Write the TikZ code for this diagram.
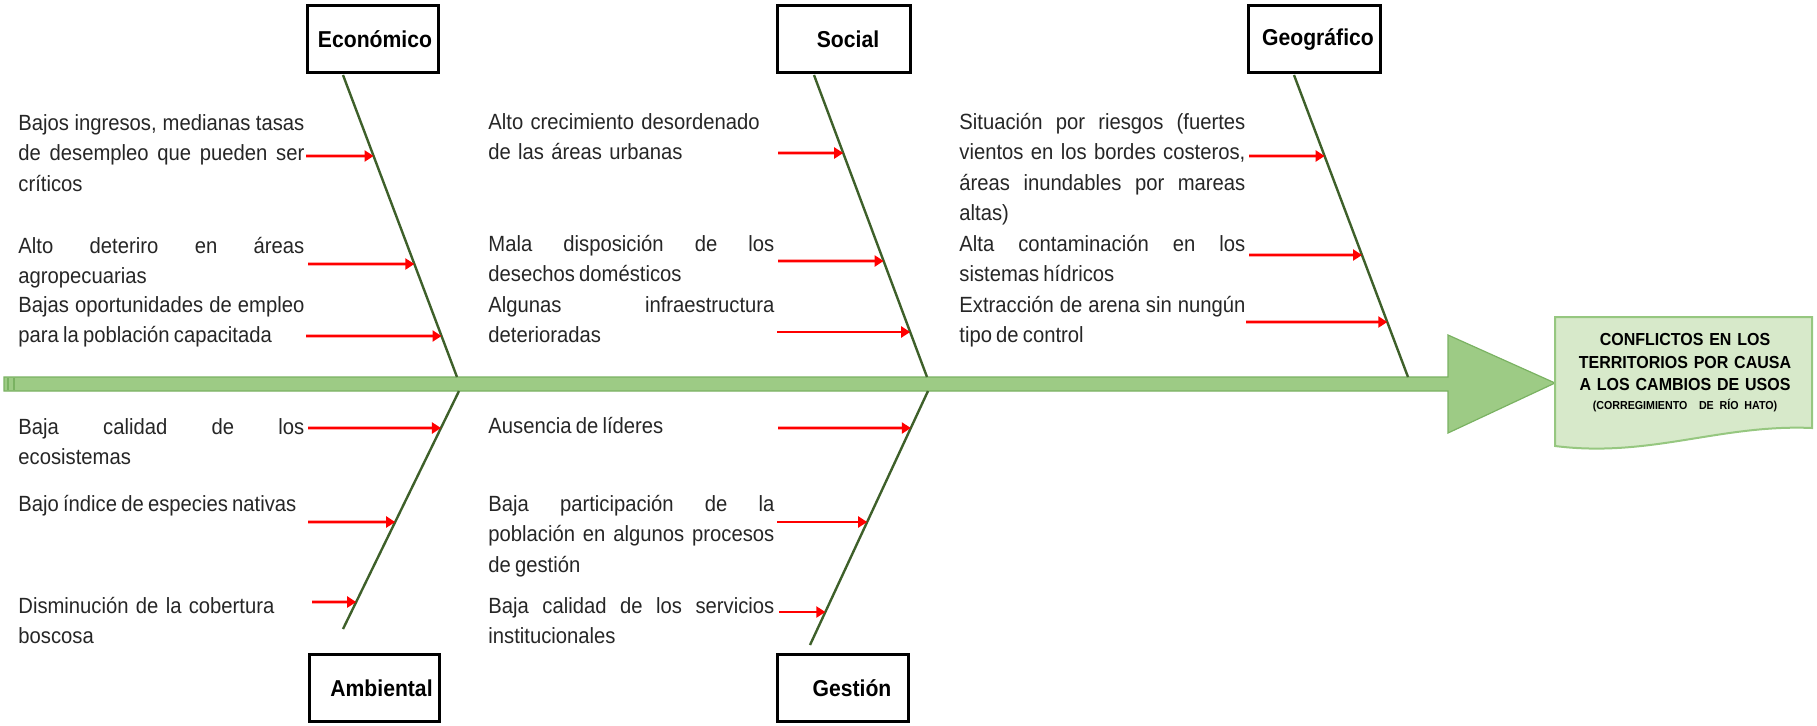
\documentclass[tikz,border=0pt]{standalone}
\usepackage{fontspec}
\setmainfont{Liberation Sans}[FakeStretch=0.92, WordSpace=0.75]
\usetikzlibrary{arrows.meta}
\definecolor{spinefill}{RGB}{157,203,133}
\definecolor{spineline}{RGB}{122,178,98}
\definecolor{bonegreen}{RGB}{62,96,42}
\definecolor{effectfill}{RGB}{215,233,202}
\definecolor{effectline}{RGB}{150,199,128}
\definecolor{txtgray}{RGB}{38,38,38}
\newcommand{\causesize}{\fontsize{11}{15.25}\selectfont}
\newcommand{\headsize}{\bfseries\fontsize{11.5}{14}\selectfont}
\tikzset{
  headbox/.style={draw=black, line width=1.5pt, minimum height=33.5pt,
    inner sep=0pt, font=\headsize},
  bone/.style={draw=bonegreen, line width=1.2pt},
  causetxt/.style={anchor=base west, inner sep=0pt, align=justify,
    text=txtgray, font=\causesize, text width=143pt},
  causearrow/.style={draw=red, line width=1.3pt,
    -{Triangle[length=4.5pt,width=5.5pt]}}
}

\begin{document}
\begin{tikzpicture}[x=0.5pt,y=-0.5pt]
  \useasboundingbox (0,0) rectangle (1817,725);

  \filldraw[fill=spinefill, draw=spineline, line width=0.6pt]
    (4,377) -- (1448,377) -- (1448,335) -- (1555,383) -- (1448,433)
    -- (1448,391) -- (4,391) -- cycle;
  \draw[spineline, line width=0.8pt] (8,378) -- (8,390);
  \draw[spineline, line width=0.8pt] (14,378) -- (14,390);

  \filldraw[fill=effectfill, draw=effectline, line width=1pt]
    (1555,317) -- (1812,317) -- (1812,428)
    .. controls (1720,424) and (1650,458) .. (1555,446) -- cycle;
  \node[anchor=base, text width=125pt, align=center, inner sep=0pt,
    font=\bfseries\fontsize{8.7}{11.25}\selectfont] (effect) at (1685,345.5)
    {CONFLICTOS EN LOS\\TERRITORIOS POR CAUSA\\A LOS CAMBIOS DE USOS\\[-1.75pt]
     {\fontsize{5.8}{7}\selectfont (CORREGIMIENTO\ \ DE RÍO HATO)}};

  \node[headbox, minimum width=65.5pt] (eco) at (373,39) {\hspace*{2pt}Económico};
  \node[headbox, minimum width=66.5pt] (soc) at (844,39) {\hspace*{4pt}Social};
  \node[headbox, minimum width=66pt] (geo) at (1314.5,39) {\hspace*{3.5pt}Geográfico};
  \node[headbox, minimum width=65pt] (amb) at (374.5,688) {\hspace*{7pt}Ambiental};
  \node[headbox, minimum width=65.5pt] (ges) at (843,688) {\hspace*{9pt}Gestión};

  \coordinate (ecoT) at (343,75);   \coordinate (ecoB) at (457,377);
  \coordinate (socT) at (814,75);   \coordinate (socB) at (927,377);
  \coordinate (geoT) at (1294,75);  \coordinate (geoB) at (1408,377);
  \coordinate (ambT) at (459,391);  \coordinate (ambB) at (343,629);
  \coordinate (gesT) at (928,391);  \coordinate (gesB) at (810,645);
  \foreach \bn in {eco,soc,geo,amb,ges}
    \draw[bone] (\bn T) -- (\bn B);

  \node[causetxt] (eco1) at (18,130) {Bajos ingresos, medianas tasas \linebreak
    de desempleo que pueden ser \linebreak críticos};
  \node[causetxt] (eco2) at (18,253) {Alto deteriro en áreas \linebreak agropecuarias};
  \node[causetxt] (eco3) at (18,312) {Bajas oportunidades de empleo \linebreak
    para la población capacitada};
  \node[causetxt] (amb1) at (18,434) {Baja calidad de los \linebreak ecosistemas};
  \node[causetxt] (amb2) at (18,511) {Bajo índice de especies nativas};
  \node[causetxt, align=left] (amb3) at (18,613) {Disminución de la cobertura\\ boscosa};

  \node[causetxt, align=left] (soc1) at (488,129) {Alto crecimiento desordenado\\
    de las áreas urbanas};
  \node[causetxt] (soc2) at (488,251) {Mala disposición de los \linebreak
    desechos domésticos};
  \node[causetxt] (soc3) at (488,312) {Algunas infraestructura \linebreak deterioradas};
  \node[causetxt] (ges1) at (488,433) {Ausencia de líderes};
  \node[causetxt] (ges2) at (488,511) {Baja participación de la \linebreak
    población en algunos procesos \linebreak de gestión};
  \node[causetxt] (ges3) at (488,613) {Baja calidad de los servicios \linebreak
    institucionales};

  \node[causetxt] (geo1) at (959,129) {Situación por riesgos (fuertes
    \linebreak vientos en los bordes costeros, \linebreak áreas inundables por mareas
    \linebreak altas)};
  \node[causetxt] (geo2) at (959,251) {Alta contaminación en los
    \linebreak sistemas hídricos};
  \node[causetxt] (geo3) at (959,312) {Extracción de arena sin nungún
    \linebreak tipo de control};

  \foreach \bn/\x/\y [count=\i] in {eco/306/156, eco/308/264, eco/306/336,
      amb/308/428, amb/308/522, amb/312/602, soc/778/153, soc/778/261,
      soc/777/332, ges/778/428, ges/777/522, ges/779/612, geo/1249/156,
      geo/1249/255, geo/1246/322}
  {
    \coordinate (s\i) at (\x,\y);
    \coordinate (r\i) at (1817,\y);
    \draw[causearrow] (s\i) -- (intersection of \bn T--\bn B and s\i--r\i);
  }
\end{tikzpicture}
\end{document}
